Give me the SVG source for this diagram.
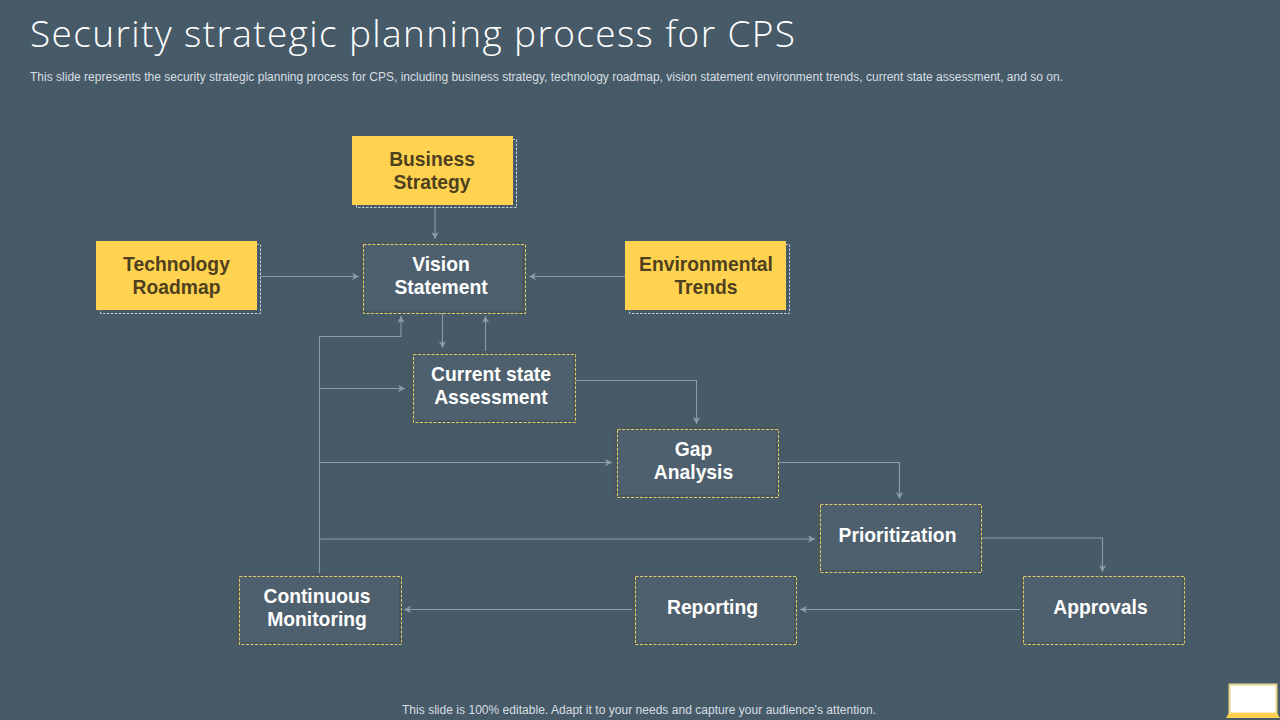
<svg xmlns="http://www.w3.org/2000/svg" width="1280" height="720" viewBox="0 0 1280 720">
<style>
text{font-family:"Liberation Sans",Arial,sans-serif}
.t{font-size:19.300px;font-weight:700;text-anchor:middle}
.y .t{fill:#4f4020}
.d .t{fill:#fff}
.yf{fill:#ffd34f}
.yd{fill:none;stroke:#c4ced6;stroke-width:1;stroke-dasharray:2.500 1.500}
.df{fill:#4e5f6e}
.ds{fill:#4a5761}
.dd{fill:none;stroke:#dccd62;stroke-width:1;stroke-dasharray:3 1.500}
#connectors path{fill:none;stroke:#8d9ca8;stroke-width:1.100;marker-end:url(#a)}
#connectors path.n{marker-end:none}
</style>
<defs>
<marker id="a" markerUnits="userSpaceOnUse" markerWidth="9" markerHeight="9" refX="8" refY="4.500" orient="auto"><path d="M1 .8L8 4.500L1 8.200L3 4.500Z" fill="#8d9ca8" stroke="none" style="marker-end:none"/></marker>
</defs>
<rect width="1280" height="720" fill="#465a67"/>
<text x="30" y="47" font-size="37" fill="#fff" style="font-family:'Open Sans','Noto Sans',sans-serif;font-weight:300" textLength="765" lengthAdjust="spacing">Security strategic planning process for CPS</text>
<text x="30" y="81" font-size="12" fill="#d8dee3" textLength="1033" lengthAdjust="spacing">This slide represents the security strategic planning process for CPS, including business strategy, technology roadmap, vision statement environment trends, current state assessment, and so on.</text>
<g id="connectors">
<path d="M435 208V239"/>
<path d="M261 276.500H359"/>
<path d="M625 276.500H529"/>
<path d="M442.500 313V348"/>
<path d="M485.500 352V316"/>
<path d="M576 380.500H696.500V424"/>
<path d="M779 462.500H899.500V499"/>
<path d="M982 538H1102.500V572"/>
<path d="M1022 609.500H800"/>
<path d="M635 609.500H404"/>
<path class="n" d="M319.500 575V336.500"/>
<path d="M319.500 336.500H401V316"/>
<path d="M319.500 388.500H405"/>
<path d="M319.500 462.500H612"/>
<path d="M319.500 539H815"/>
</g>
<g id="business-strategy" class="y"><rect class="yd" x="356.500" y="139.500" width="160" height="68"/><rect class="yf" x="352" y="136" width="161" height="69"/><text class="t" x="432" y="166">Business</text><text class="t" x="432" y="189">Strategy</text></g>
<g id="technology-roadmap" class="y"><rect class="yd" x="100.500" y="244.500" width="160" height="69"/><rect class="yf" x="96" y="241" width="161" height="69"/><text class="t" x="176.500" y="271">Technology</text><text class="t" x="176.500" y="294">Roadmap</text></g>
<g id="environmental-trends" class="y"><rect class="yd" x="629.500" y="244.500" width="160" height="69"/><rect class="yf" x="625" y="241" width="161" height="69"/><text class="t" x="706" y="271">Environmental</text><text class="t" x="706" y="294">Trends</text></g>
<g id="vision-statement" class="d"><rect class="ds" x="360" y="241" width="165" height="72"/><rect class="df" x="363" y="244" width="159" height="66"/><rect class="dd" x="363.500" y="244.500" width="162" height="69"/><text class="t" x="441" y="271">Vision</text><text class="t" x="441" y="294">Statement</text></g>
<g id="current-state" class="d"><rect class="ds" x="410" y="351" width="166" height="72"/><rect class="df" x="413" y="354" width="160" height="66"/><rect class="dd" x="413.500" y="354.500" width="162" height="68"/><text class="t" x="491" y="381">Current state</text><text class="t" x="491" y="404">Assessment</text></g>
<g id="gap-analysis" class="d"><rect class="ds" x="613" y="426" width="166" height="72"/><rect class="df" x="617" y="429" width="159" height="66"/><rect class="dd" x="617.500" y="429.500" width="161" height="68"/><text class="t" x="693.500" y="456">Gap</text><text class="t" x="693.500" y="479">Analysis</text></g>
<g id="prioritization" class="d"><rect class="ds" x="817" y="501" width="165" height="72"/><rect class="df" x="820" y="504" width="159" height="66"/><rect class="dd" x="820.500" y="504.500" width="161" height="68"/><text class="t" x="897.500" y="542">Prioritization</text></g>
<g id="continuous-monitoring" class="d"><rect class="ds" x="236" y="573" width="166" height="72"/><rect class="df" x="239" y="576" width="160" height="66"/><rect class="dd" x="239.500" y="576.500" width="162" height="68"/><text class="t" x="317" y="603">Continuous</text><text class="t" x="317" y="626">Monitoring</text></g>
<g id="reporting" class="d"><rect class="ds" x="632" y="573" width="165" height="72"/><rect class="df" x="635" y="576" width="159" height="66"/><rect class="dd" x="635.500" y="576.500" width="161" height="68"/><text class="t" x="712.500" y="614">Reporting</text></g>
<g id="approvals" class="d"><rect class="ds" x="1020" y="573" width="165" height="72"/><rect class="df" x="1023" y="576" width="159" height="66"/><rect class="dd" x="1023.500" y="576.500" width="161" height="68"/><text class="t" x="1100.500" y="614">Approvals</text></g>
<text x="639" y="714" font-size="12" fill="#d8dee3" text-anchor="middle" textLength="474" lengthAdjust="spacing">This slide is 100% editable. Adapt it to your needs and capture your audience's attention.</text>
<g id="laptop"><rect x="1229.500" y="684.500" width="47" height="29" fill="#fff" stroke="#e6d68e" stroke-width="2"/><path d="M1226 718L1229 713H1277L1280 718Z" fill="#ffd34f"/></g>
</svg>
